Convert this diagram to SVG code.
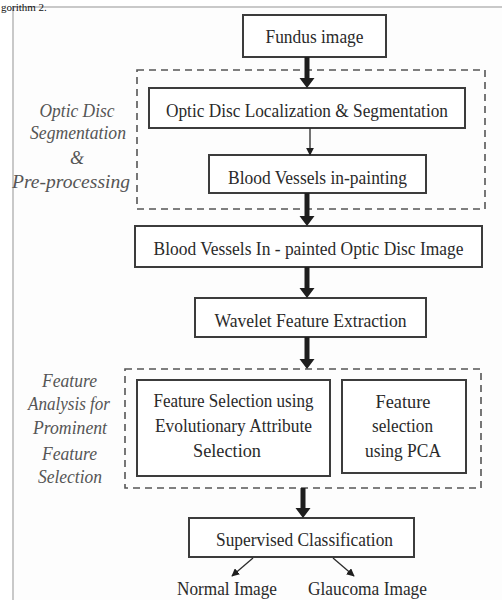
<svg xmlns="http://www.w3.org/2000/svg" width="502" height="600" viewBox="0 0 502 600">
<defs>
<style>
.box{fill:#fff;stroke:#3c3c3c;stroke-width:2}
.dash{fill:none;stroke:#555;stroke-width:1.6;stroke-dasharray:7,5}
.t{font-family:"Liberation Serif","Times New Roman",serif;font-size:19px;fill:#2a2a2a;text-anchor:middle}
.lbl{font-family:"Liberation Serif","Times New Roman",serif;font-size:18px;font-style:italic;fill:#555;text-anchor:middle}
.thick{fill:#1e1e1e;stroke:none}
.thin{stroke:#2a2a2a;stroke-width:1.3;fill:none}
</style>
<marker id="ah" viewBox="0 0 10 10" refX="9" refY="5" markerWidth="8" markerHeight="8" orient="auto" markerUnits="userSpaceOnUse">
<path d="M0,0 L10,5 L0,10 Z" fill="#1e1e1e"/>
</marker>
</defs>
<rect x="0" y="0" width="502" height="600" fill="#fff"/>
<rect x="13" y="7" width="495" height="600" fill="#fdfdfd" stroke="#c9c9c9" stroke-width="2"/>
<text x="1" y="10.5" font-family="Liberation Serif, serif" font-size="11" fill="#111">gorithm 2.</text>

<g id="group-preprocessing">
<rect class="dash" x="137" y="70" width="348" height="139"/>
<text class="lbl" x="77" y="117" textLength="75" lengthAdjust="spacingAndGlyphs">Optic Disc</text>
<text class="lbl" x="78" y="139" textLength="96" lengthAdjust="spacingAndGlyphs">Segmentation</text>
<text class="lbl" x="77" y="164">&amp;</text>
<text class="lbl" x="71" y="188" textLength="118" lengthAdjust="spacingAndGlyphs">Pre-processing</text>
</g>

<g id="group-feature-analysis">
<rect class="dash" x="125" y="369" width="356" height="119"/>
<text class="lbl" x="69.5" y="387" textLength="55" lengthAdjust="spacingAndGlyphs">Feature</text>
<text class="lbl" x="69" y="410" textLength="82" lengthAdjust="spacingAndGlyphs">Analysis for</text>
<text class="lbl" x="70" y="434" textLength="74" lengthAdjust="spacingAndGlyphs">Prominent</text>
<text class="lbl" x="69.5" y="460" textLength="55" lengthAdjust="spacingAndGlyphs">Feature</text>
<text class="lbl" x="70" y="483" textLength="64" lengthAdjust="spacingAndGlyphs">Selection</text>
</g>

<g id="fundus">
<rect class="box" x="243" y="15" width="143" height="42"/>
<text class="t" x="314.5" y="43" textLength="98" lengthAdjust="spacingAndGlyphs">Fundus image</text>
</g>
<g id="od-localization">
<rect class="box" x="149" y="88" width="316" height="40"/>
<text class="t" x="307" y="117" textLength="282" lengthAdjust="spacingAndGlyphs">Optic Disc Localization &amp; Segmentation</text>
</g>
<g id="bv-inpainting">
<rect class="box" x="209" y="155" width="217" height="38"/>
<text class="t" x="317.5" y="184" textLength="179" lengthAdjust="spacingAndGlyphs">Blood Vessels in-painting</text>
</g>
<g id="bv-inpainted-od">
<rect class="box" x="135" y="226" width="347" height="41"/>
<text class="t" x="308.5" y="255" textLength="310" lengthAdjust="spacingAndGlyphs">Blood Vessels In - painted Optic Disc Image</text>
</g>
<g id="wavelet">
<rect class="box" x="195" y="298" width="231" height="39"/>
<text class="t" x="310.5" y="327" textLength="192" lengthAdjust="spacingAndGlyphs">Wavelet Feature Extraction</text>
</g>
<g id="fs-evolutionary">
<rect class="box" x="137" y="380" width="193" height="96"/>
<text class="t" x="233.5" y="407" textLength="160" lengthAdjust="spacingAndGlyphs">Feature Selection using</text>
<text class="t" x="233.5" y="432" textLength="157" lengthAdjust="spacingAndGlyphs">Evolutionary Attribute</text>
<text class="t" x="227" y="457" textLength="68" lengthAdjust="spacingAndGlyphs">Selection</text>
</g>
<g id="fs-pca">
<rect class="box" x="342" y="380" width="124" height="93"/>
<text class="t" x="403" y="408" textLength="55" lengthAdjust="spacingAndGlyphs">Feature</text>
<text class="t" x="402.5" y="432" textLength="61" lengthAdjust="spacingAndGlyphs">selection</text>
<text class="t" x="403" y="457" textLength="76" lengthAdjust="spacingAndGlyphs">using PCA</text>
</g>
<g id="supervised">
<rect class="box" x="189" y="518" width="225" height="39"/>
<text class="t" x="304.5" y="546" textLength="177" lengthAdjust="spacingAndGlyphs">Supervised Classification</text>
</g>
<g id="normal">
<text class="t" x="227" y="595" textLength="100" lengthAdjust="spacingAndGlyphs">Normal Image</text>
</g>
<g id="glaucoma">
<text class="t" x="367.5" y="595" textLength="119" lengthAdjust="spacingAndGlyphs">Glaucoma Image</text>
</g>

<g id="connectors">
<path class="thick" d="M304.5,57 h5 v21 h5 l-7.5,10 l-7.5,-10 h5 z"/>
<line class="thin" x1="310" y1="128" x2="310" y2="155" marker-end="url(#ah)"/>
<path class="thick" d="M304.5,193 h5 v23 h5 l-7.5,10 l-7.5,-10 h5 z"/>
<path class="thick" d="M304.5,267 h5 v21 h5 l-7.5,10 l-7.5,-10 h5 z"/>
<path class="thick" d="M304.5,337 h5 v22 h5 l-7.5,10 l-7.5,-10 h5 z"/>
<path class="thick" d="M300.5,488 h5 v20 h5 l-7.5,10 l-7.5,-10 h5 z"/>
<line class="thin" x1="253" y1="558" x2="232" y2="576" marker-end="url(#ah)"/>
<line class="thin" x1="333" y1="558" x2="354" y2="576" marker-end="url(#ah)"/>
</g>
</svg>
